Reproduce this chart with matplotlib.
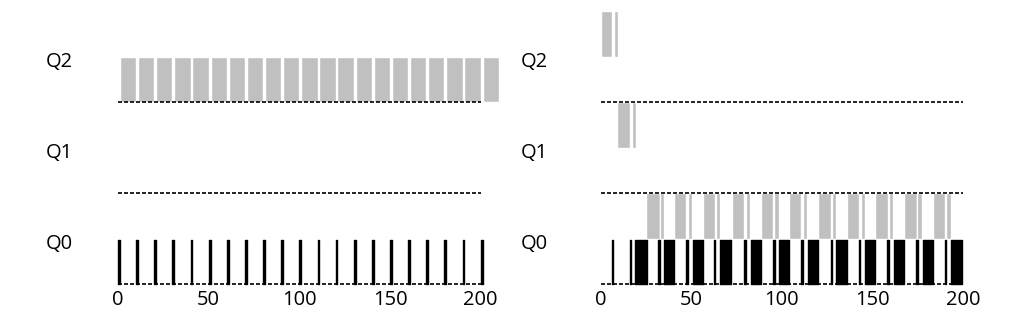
import matplotlib
matplotlib.use('Agg')
import matplotlib.pyplot as plt

plt.rcParams['font.family'] = ['Open Sans', 'DejaVu Sans']

# ── data (time units) ────────────────────────────────────────────────────────
QUEUES = ['Q0', 'Q1', 'Q2']
TICKS = [0, 50, 100, 150, 200]

# left: long job (gray) stuck in Q2, short job (black) every 10 in Q0
LEFT_GRAY_START = [1, 11, 21, 31, 41, 51, 61, 71, 81, 91, 101,
                   111, 121, 131, 141, 151, 161, 171, 181, 191, 201]
LEFT_GRAY_LEN = 9
LEFT_BLACK_START = [0, 10, 20, 30, 40, 50, 60, 70, 80, 90, 100,
                    110, 120, 130, 140, 150, 160, 170, 180, 190, 200]
LEFT_BLACK_LEN = 1

# right: (start, end) per run
RIGHT_GRAY_Q2 = [(0, 6.2), (7.2, 9.7)]
RIGHT_GRAY_Q1 = [(9.1, 16.1), (17.1, 19.6)]
RIGHT_GRAY_Q0 = [(25.1, 32.7), (32.6, 35.0), (40.7, 47.4), (48.2, 50.7),
                 (56.3, 63.0), (63.7, 65.9), (72.5, 79.2), (80.2, 82.5),
                 (88.5, 95.2), (95.8, 98.5), (104.1, 110.8), (111.5, 114.1),
                 (120.1, 127.0), (127.7, 130.1), (135.9, 142.6), (143.7, 145.9),
                 (151.6, 158.6), (159.3, 161.6), (167.6, 174.3), (174.6, 177.2),
                 (183.2, 190.0), (190.8, 193.1)]
RIGHT_BLACK_Q0 = [(6.5, 7.0), (16.4, 16.9), (19.3, 25.5), (31.8, 32.7),
                  (35.3, 40.8), (47.3, 48.0), (50.9, 56.4), (62.5, 63.2),
                  (65.8, 72.1), (79.1, 80.3), (82.8, 88.6), (95.1, 96.0),
                  (98.4, 104.2), (110.7, 111.6), (114.4, 120.1), (126.9, 127.6),
                  (130.0, 136.0), (142.5, 143.4), (145.8, 151.6), (158.2, 159.0),
                  (161.8, 167.6), (174.2, 175.0), (177.8, 183.3), (189.9, 190.6),
                  (193.5, 199.6)]

GRAY = '#c0c0c0'
FS = 14.5
BAR_H = 0.5
BLACK_H = 0.48


def setup(ax, xlim):
    ax.set_xlim(*xlim)
    ax.set_ylim(-0.4835, 3.121)
    for s in ax.spines.values():
        s.set_visible(False)
    ax.spines['bottom'].set_position(('data', 0))
    ax.set_yticks([])
    ax.set_xticks(TICKS)
    ax.tick_params(axis='x', length=0, pad=4.5, labelsize=FS)
    for lvl, q in enumerate(QUEUES):
        ax.hlines(lvl, 0, 200, colors='black', lw=1.2,
                  linestyles=(0, (2.4, 1.2)), zorder=4)
        ax.text(xlim[0] + 3.3, lvl + 0.38, q, ha='left', va='baseline', fontsize=FS)


def gray_runs(ax, runs, y0):
    ax.broken_barh([(a, b - a) for a, b in runs], (y0, BAR_H),
                   facecolors=GRAY, edgecolors='white', linewidth=1.0, zorder=2)


def black_runs(ax, runs):
    ax.broken_barh([(a, b - a) for a, b in runs], (0, BLACK_H),
                   facecolors='black', edgecolors='black', linewidth=1.0, zorder=3)


fig = plt.figure(figsize=(10.15, 3.28), dpi=100)

ax1 = fig.add_axes([40 / 1015, 0, 465 / 1015, 1])
setup(ax1, ((40 - 118.1) / 1.813, (505 - 118.1) / 1.813))
gray_runs(ax1, [(s, s + LEFT_GRAY_LEN) for s in LEFT_GRAY_START], 2)
black_runs(ax1, [(s, s + LEFT_BLACK_LEN) for s in LEFT_BLACK_START])

ax2 = fig.add_axes([515 / 1015, 0, 485 / 1015, 1])
setup(ax2, ((515 - 600.5) / 1.813, (1000 - 600.5) / 1.813))
gray_runs(ax2, RIGHT_GRAY_Q2, 2.5)
gray_runs(ax2, RIGHT_GRAY_Q1, 1.5)
gray_runs(ax2, RIGHT_GRAY_Q0, 0.5)
black_runs(ax2, RIGHT_BLACK_Q0)

fig.savefig('out.png', dpi=100)
